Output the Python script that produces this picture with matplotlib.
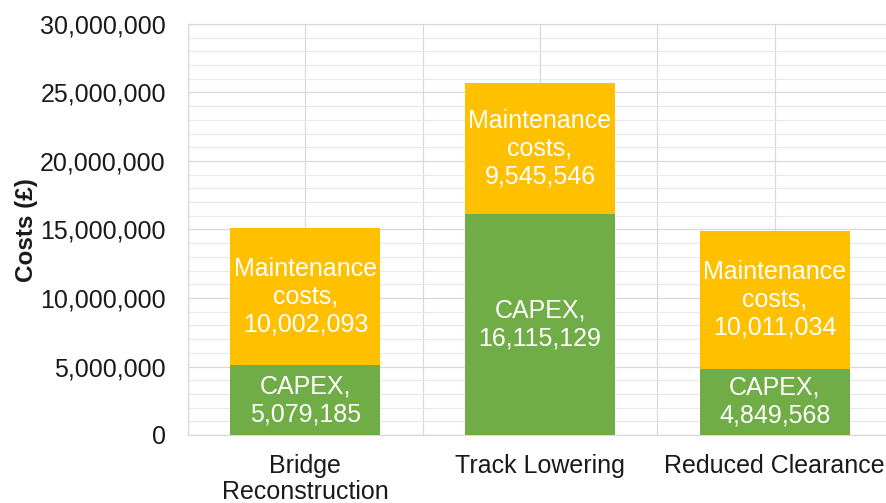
import matplotlib
matplotlib.use("Agg")
import matplotlib.pyplot as plt
from matplotlib.ticker import FuncFormatter, MultipleLocator, FixedLocator

categories = ["Bridge\nReconstruction", "Track Lowering", "Reduced Clearance"]
capex = [5079185, 16115129, 4849568]
maintenance = [10002093, 9545546, 10011034]
y_label = "Costs (£)"

plt.rcParams["font.family"] = ["Liberation Sans", "DejaVu Sans"]

fig = plt.figure(figsize=(8.86, 5.03), dpi=100)
ax = fig.add_axes([188/886, 68/503, (892-188)/886, (435-24)/503])

x = list(range(len(categories)))
green = "#70AD47"
gold = "#FFC000"
w = 0.64
ax.bar(x, capex, width=w, color=green, zorder=3)
ax.bar(x, maintenance, width=w, bottom=capex, color=gold, zorder=3)

for i in x:
    ax.text(i, capex[i] / 2, f"CAPEX,\n{capex[i]:,}", ha="center", va="center",
            color="white", fontsize=18, linespacing=1.2, zorder=4)
    ax.text(i, capex[i] + maintenance[i] / 2, f"Maintenance\ncosts,\n{maintenance[i]:,}",
            ha="center", va="center", color="white", fontsize=18, linespacing=1.2, zorder=4)

ax.set_xlim(-0.5, 2.5)
ax.set_ylim(0, 30000000)
ax.yaxis.set_major_locator(MultipleLocator(5000000))
ax.yaxis.set_minor_locator(MultipleLocator(1000000))
ax.yaxis.set_major_formatter(FuncFormatter(lambda v, p: f"{int(v):,}"))
ax.set_xticks(x)
ax.set_xticklabels(categories)
ax.xaxis.set_minor_locator(FixedLocator([-0.5, 0.5, 1.5, 2.5]))

ax.grid(which="major", axis="both", color="#D9D9D9", linewidth=0.9, zorder=0)
ax.grid(which="minor", axis="y", color="#E8E8E8", linewidth=0.8, zorder=0)
ax.grid(which="minor", axis="x", color="#D9D9D9", linewidth=0.9, zorder=0)
ax.set_axisbelow(True)

ax.tick_params(axis="both", which="both", length=0)
ax.tick_params(axis="y", labelsize=18, pad=16, labelcolor="#1a1a1a")
ax.tick_params(axis="x", labelsize=18, pad=14, labelcolor="#1a1a1a")
for t in ax.get_xticklabels():
    t.set_linespacing(1.1)

for s in ["left", "bottom", "top", "right"]:
    ax.spines[s].set_color("#D9D9D9")
    ax.spines[s].set_linewidth(0.9)

fig.text(26/886, 1 - 230/503, y_label, rotation=90, ha="center", va="center",
         fontsize=17.5, fontweight="bold", color="#1a1a1a")

fig.savefig("out.png", dpi=100, facecolor="white")
